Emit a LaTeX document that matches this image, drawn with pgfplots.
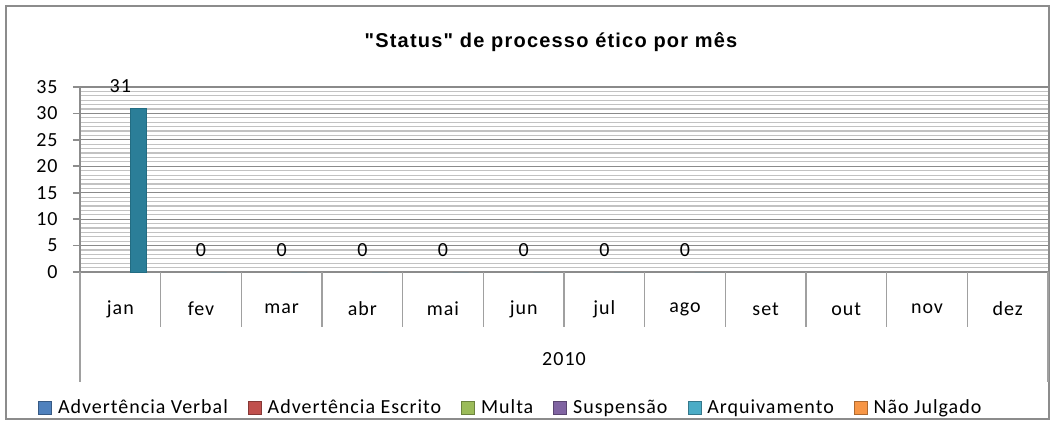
\documentclass[border=0pt]{standalone}
\usepackage{fontspec}
\setmainfont{Carlito}[LetterSpace=5]
\newfontfamily\titlefont{Liberation Sans}[Ligatures=TeXOff,LetterSpace=6]
\usepackage{pgfplots}
\pgfplotsset{compat=1.18}
\definecolor{cVerbal}{HTML}{4F81BD}
\definecolor{cEscrito}{HTML}{C0504D}
\definecolor{cMulta}{HTML}{9BBB59}
\definecolor{cSusp}{HTML}{8064A2}
\definecolor{cArq}{HTML}{4BACC6}
\definecolor{cArqBar}{HTML}{3190AD}
\definecolor{cArqDark}{HTML}{2B7E98}
\definecolor{cArqEdge}{HTML}{236C82}
\definecolor{cArqLight}{HTML}{3FA6C6}
\definecolor{cNJ}{HTML}{F79646}
\definecolor{majgrid}{HTML}{8A8A8A}
\definecolor{mingrid}{HTML}{C2C2C2}
\definecolor{axgray}{HTML}{8C8C8C}
\definecolor{sepgray}{HTML}{A0A0A0}
\definecolor{bordergray}{HTML}{8C8C8C}
\newcommand\chartfont{\fontsize{10}{12}\selectfont}
\pgfplotsset{sqlegend/.style={legend image code/.code={\draw[##1, line width=0.4pt] (0pt,-3pt) rectangle (6.5pt,3.5pt);}}}
\begin{document}
\begin{tikzpicture}
\useasboundingbox (0,0) rectangle (525.5pt,212.5pt);
\draw[bordergray, line width=1pt] (3pt,3pt) rectangle (524.5pt,209.5pt);
\node[font=\titlefont\bfseries\fontsize{10}{12}\selectfont] at (275.5pt,191.5pt) {"Status" de processo ético por mês};
\begin{axis}[
  at={(40pt,76.5pt)}, anchor=south west,
  scale only axis, width=484pt, height=92.5pt,
  xmin=-0.5, xmax=11.5, ymin=0, ymax=35,
  axis x line*=bottom, axis y line*=left,
  axis line style={axgray, line width=0.8pt},
  ytick={0,5,...,35},
  minor y tick num=5,
  ymajorgrids, yminorgrids,
  major grid style={majgrid, line width=0.6pt},
  minor grid style={mingrid, line width=0.6pt},
  tick align=outside,
  major tick length=3.5pt,
  minor tick length=0pt,
  ytick style={axgray, line width=0.8pt},
  xtick={0,...,11},
  xticklabels={jan,fev,mar,abr,mai,jun,jul,ago,set,out,nov,dez},
  xtick style={draw=none},
  xticklabel style={anchor=center, inner sep=0pt, yshift=-15pt},
  yticklabel style={anchor=east, inner sep=0pt, xshift=-7.5pt},
  tick label style={font=\chartfont},
  /pgf/number format/assume math mode=true,
  xlabel={2010},
  xlabel style={at={(axis description cs:0.5,-0.47)}, anchor=center, font=\chartfont},
  clip=false,
  legend style={at={(axis description cs:0.444,-0.735)}, anchor=center, draw=none, fill=none,
    legend columns=6, font=\chartfont, inner sep=0pt,
    nodes={inner sep=0pt},
    /tikz/every odd column/.append style={column sep=3pt},
    /tikz/every even column/.append style={column sep=10pt}},
]
\addlegendimage{sqlegend, fill=cVerbal, draw=cVerbal!70!black}
\addlegendentry{Advertência Verbal}
\addlegendimage{sqlegend, fill=cEscrito, draw=cEscrito!70!black}
\addlegendentry{Advertência Escrito}
\addlegendimage{sqlegend, fill=cMulta, draw=cMulta!70!black}
\addlegendentry{Multa}
\addlegendimage{sqlegend, fill=cSusp, draw=cSusp!70!black}
\addlegendentry{Suspensão}
\addplot[ybar, fill=cArqBar, draw=none, bar width=8pt, bar shift=8.85pt,
  nodes near coords,
  every node near coord/.append style={anchor=center, yshift=11pt, font=\chartfont, text=black},
  sqlegend, legend image code/.code={\draw[fill=cArq, draw=cArq!70!black, line width=0.4pt] (0pt,-3pt) rectangle (6.5pt,3.5pt);}]
  coordinates {(0,31) (1,0) (2,0) (3,0) (4,0) (5,0) (6,0) (7,0)};
\addlegendentry{Arquivamento}
\addlegendimage{sqlegend, fill=cNJ, draw=cNJ!70!black}
\addlegendentry{Não Julgado}
% bevelled look for the one visible bar (same value, jan)
\addplot[ybar, forget plot, bar width=8pt, bar shift=8.85pt, draw=cArqEdge, line width=0.4pt,
  left color=cArqDark, middle color=cArqLight, right color=cArqDark]
  coordinates {(0,31)};
\pgfplotsinvokeforeach{-0.5,0.5,...,11.5}{\draw[sepgray, line width=0.8pt] (axis cs:#1,0) -- ++(0pt,-27.5pt);}
\draw[sepgray, line width=0.8pt] (axis cs:-0.5,0) -- ++(0pt,-55pt);
\draw[sepgray, line width=0.8pt] (axis cs:11.5,0) -- ++(0pt,-55pt);
\end{axis}
\end{tikzpicture}
\end{document}
